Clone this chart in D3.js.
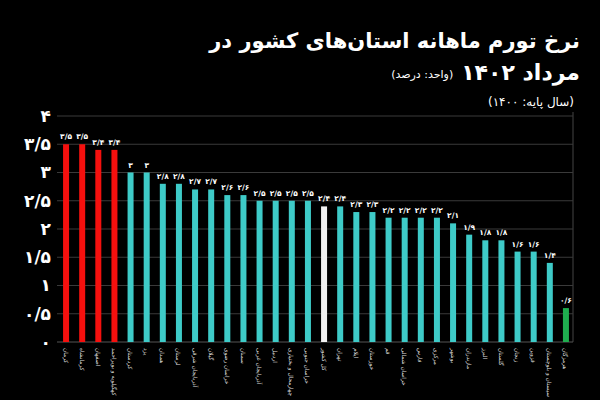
<!DOCTYPE html>
<html><head><meta charset="utf-8">
<script src="https://cdn.jsdelivr.net/npm/d3@7"></script>
<style>
html,body{margin:0;padding:0;background:#000;}
svg{display:block;}
text{font-family:"DejaVu Sans","Noto Sans",sans-serif;}
</style></head>
<body>
<script>
const provinces = ["کرمان","کرمانشاه","اصفهان","کهگیلویه و بویراحمد","کردستان","یزد","همدان","لرستان","آذربایجان شرقی","گیلان","خراسان رضوی","سمنان","آذربایجان غربی","اردبیل","چهارمحال و بختیاری","خراسان جنوبی","کل کشور","تهران","ایلام","خوزستان","قم","خراسان شمالی","فارس","مرکزی","بوشهر","مازندران","البرز","گلستان","زنجان","قزوین","سیستان و بلوچستان","هرمزگان"];
const values = [3.5,3.5,3.4,3.4,3.0,3.0,2.8,2.8,2.7,2.7,2.6,2.6,2.5,2.5,2.5,2.5,2.4,2.4,2.3,2.3,2.2,2.2,2.2,2.2,2.1,1.9,1.8,1.8,1.6,1.6,1.4,0.6];
const groups = ["high","high","high","high","mid","mid","mid","mid","mid","mid","mid","mid","mid","mid","mid","mid","total","mid","mid","mid","mid","mid","mid","mid","mid","mid","mid","mid","mid","mid","mid","low"];
const yTicks = [0,0.5,1,1.5,2,2.5,3,3.5,4];
const titleLine1 = "نرخ تورم ماهانه استان‌های کشور در";
const titleLine2 = "مرداد ۱۴۰۲";
const unitText = "(واحد: درصد)";
const baseText = "(سال پایه: ۱۴۰۰)";

const colors = {high:"#f5100e", mid:"#3ecbc8", total:"#f2f2f2", low:"#1fae4f"};
const fa = v => String(v).replace(/\d/g, d => "۰۱۲۳۴۵۶۷۸۹"[+d]).replace(".", "/");

const W = 600, H = 400;
const svg = d3.select("body").append("svg").attr("width", W).attr("height", H).style("background", "#000");

const x = d3.scalePoint().domain(d3.range(values.length)).range([58, 574]).padding(0.5);
const y = d3.scaleLinear().domain([0, 4]).range([342, 116]);

// gridlines
svg.append("g").selectAll("line").data(yTicks.filter(t => t > 0)).join("line")
  .attr("x1", 57).attr("x2", 573)
  .attr("y1", d => y(d)).attr("y2", d => y(d))
  .attr("stroke", "#3a3a3a").attr("stroke-width", 1.2);

// right border
svg.append("line").attr("x1", 573).attr("x2", 573).attr("y1", y(4) - 4).attr("y2", y(0))
  .attr("stroke", "#3a3a3a").attr("stroke-width", 1.2);

// y axis
const yAxis = d3.axisLeft(y).tickValues(yTicks).tickFormat(fa).tickSize(0).tickPadding(6);
const ga = svg.append("g").attr("transform", "translate(57,0)").call(yAxis);
ga.select(".domain").remove();
ga.selectAll("text").attr("fill", "#fff").attr("font-size", 17).attr("font-weight", "bold");

// baseline
svg.append("line").attr("x1", 57).attr("x2", 573).attr("y1", y(0)).attr("y2", y(0))
  .attr("stroke", "#555").attr("stroke-width", 1.2);

// bars
svg.append("g").selectAll("rect").data(values).join("rect")
  .attr("x", (d, i) => x(i) - 3).attr("width", 6)
  .attr("y", d => y(d)).attr("height", d => y(0) - y(d))
  .attr("fill", (d, i) => colors[groups[i]]);

// value labels
svg.append("g").selectAll("text").data(values).join("text")
  .attr("x", (d, i) => x(i)).attr("y", d => y(d) - 5)
  .attr("text-anchor", "middle").attr("fill", "#fff")
  .attr("font-size", 7.5).attr("font-weight", "bold")
  .text(fa);

// category labels
svg.append("g").selectAll("text").data(provinces).join("text")
  .attr("transform", (d, i) => `translate(${x(i) - 2.5},${y(0) + 6}) rotate(90)`)
  .attr("text-anchor", "start").attr("fill", "#ddd")
  .attr("font-size", 5.8)
  .text(d => d);

// titles
svg.append("text").attr("x", 580).attr("y", 48).attr("text-anchor", "start")
  .attr("direction", "rtl").attr("fill", "#fff").attr("font-size", 21).attr("font-weight", "bold")
  .text(titleLine1);
const t2 = svg.append("text").attr("x", 580).attr("y", 80).attr("text-anchor", "start")
  .attr("direction", "rtl").attr("fill", "#fff").attr("font-size", 22).attr("font-weight", "bold")
  .text(titleLine2);
const t2w = t2.node().getComputedTextLength();
svg.append("text").attr("x", 580 - t2w - 8).attr("y", 78).attr("text-anchor", "start")
  .attr("direction", "rtl").attr("fill", "#fff").attr("font-size", 11)
  .text(unitText);
svg.append("text").attr("x", 574).attr("y", 106).attr("text-anchor", "start")
  .attr("direction", "rtl").attr("fill", "#fff").attr("font-size", 12)
  .text(baseText);
</script>
</body></html>
